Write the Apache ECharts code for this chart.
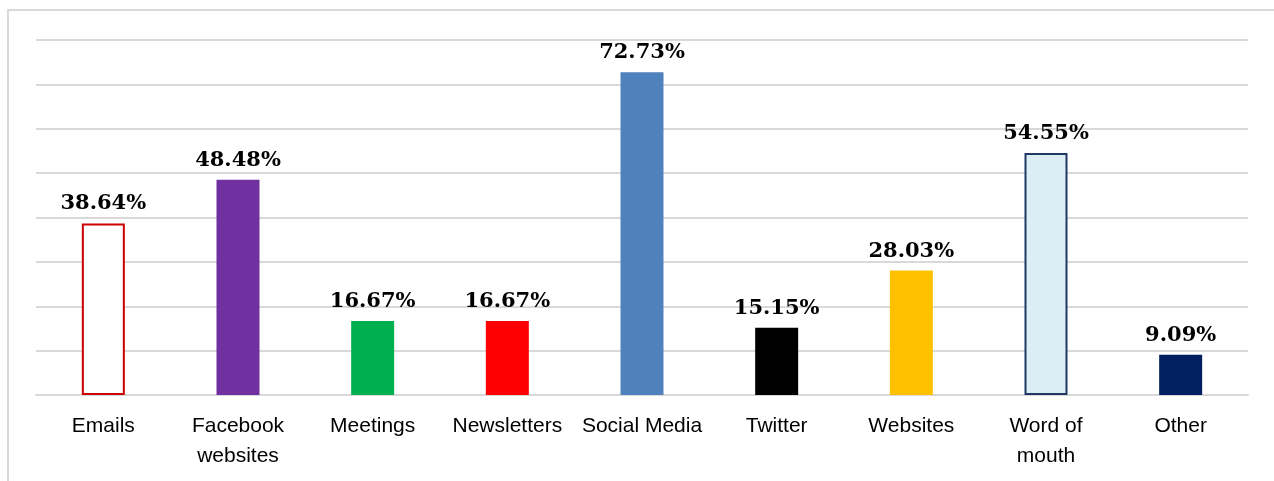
<!DOCTYPE html>
<html>
<head>
<meta charset="utf-8">
<script src="https://cdn.jsdelivr.net/npm/echarts@6/dist/echarts.min.js"></script>
<style>
  html, body { margin: 0; padding: 0; background: #ffffff; }
  #chart { width: 1274px; height: 481px; }
</style>
</head>
<body>
<div id="chart"></div>
<script>
// Channels and the share of respondents for each
const categories = ['Emails', 'Facebook\nwebsites', 'Meetings', 'Newsletters', 'Social Media', 'Twitter', 'Websites', 'Word of\nmouth', 'Other'];
const shares = [38.64, 48.48, 16.67, 16.67, 72.73, 15.15, 28.03, 54.55, 9.09];
const fillColors = ['#ffffff', '#7030a0', '#00b050', '#ff0000', '#4f81bd', '#000000', '#ffc000', '#daeef3', '#002060'];
const borderColors = ['#cc0000', null, null, null, null, null, null, '#1f3864', null];

const chart = echarts.init(document.getElementById('chart'), null, { renderer: 'canvas' });

const barData = shares.map((v, i) => ({
  value: v,
  itemStyle: {
    color: fillColors[i],
    borderColor: borderColors[i] || fillColors[i],
    borderWidth: borderColors[i] ? 2 : 0
  }
}));

chart.setOption({
  animation: false,
  backgroundColor: '#ffffff',
  graphic: [{
    type: 'rect',
    shape: { x: 8, y: 10, width: 1300, height: 500 },
    style: { fill: 'none', stroke: '#d9d9d9', lineWidth: 2 },
    silent: true
  }],
  grid: { left: 36, right: 26, top: 40, bottom: 86, containLabel: false },
  xAxis: {
    type: 'category',
    data: categories,
    axisLine: { show: true, lineStyle: { color: '#d9d9d9', width: 2 } },
    axisTick: { show: false },
    axisLabel: {
      color: '#000000',
      fontFamily: 'Liberation Sans, Arial, sans-serif',
      fontSize: 21,
      lineHeight: 30,
      margin: 16,
      interval: 0
    }
  },
  yAxis: {
    type: 'value',
    min: 0,
    max: 80,
    interval: 10,
    axisLabel: { show: false },
    axisLine: { show: false },
    axisTick: { show: false },
    splitLine: { lineStyle: { color: '#d9d9d9', width: 2 } }
  },
  series: [{
    type: 'bar',
    data: barData,
    barWidth: 43,
    label: {
      show: true,
      position: 'top',
      distance: 9,
      formatter: p => p.value.toFixed(2) + '%',
      color: '#000000',
      fontFamily: 'DejaVu Serif, serif',
      fontWeight: 'bold',
      fontSize: 21
    }
  }]
});
</script>
</body>
</html>
